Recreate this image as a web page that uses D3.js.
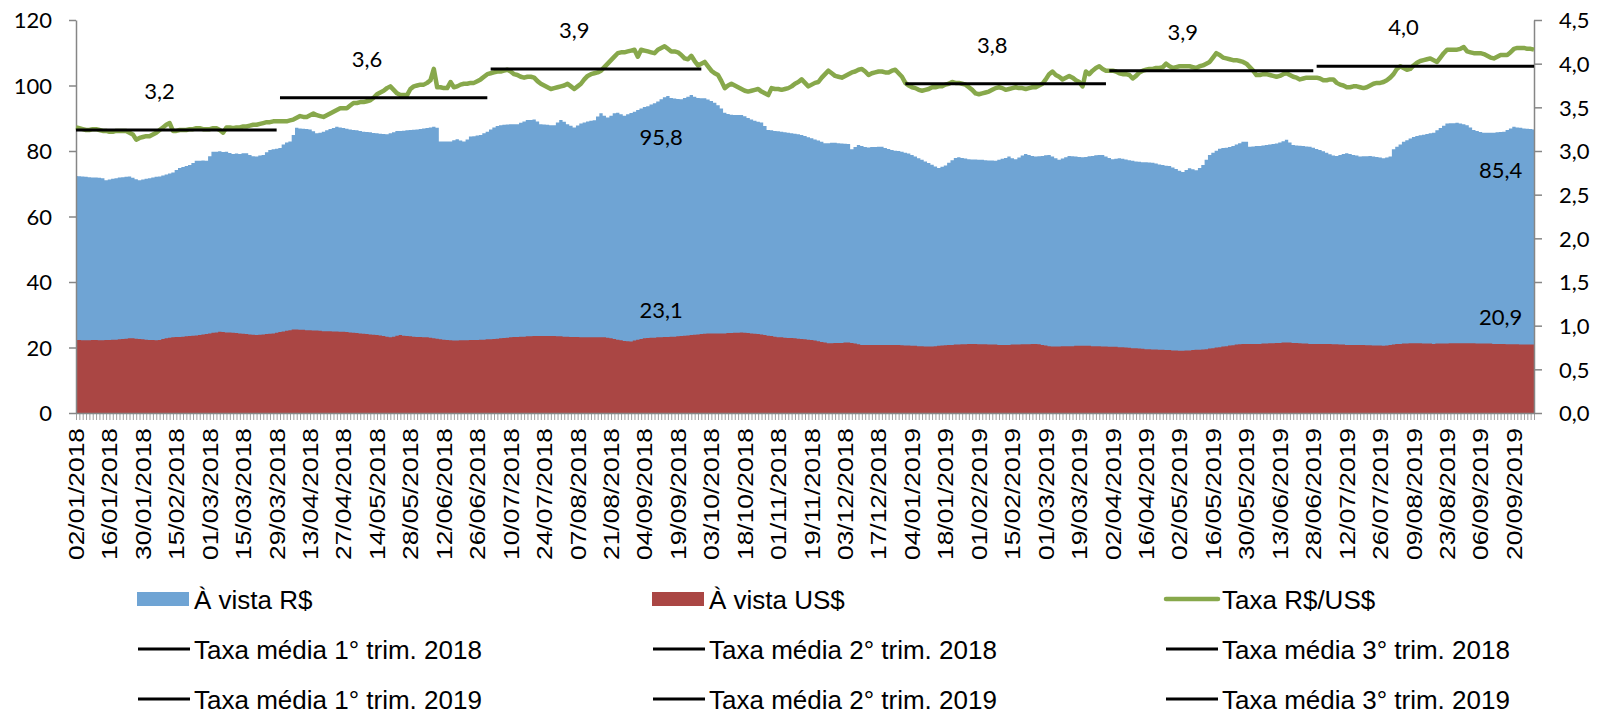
<!DOCTYPE html>
<html>
<head>
<meta charset="utf-8">
<script src="https://cdn.jsdelivr.net/npm/d3@7"></script>
<style>
  body { margin: 0; background: #fff; }
  .num { font-family: Lato, "Open Sans", sans-serif; font-size: 22px; fill: #000; }
  .date { font-family: "Liberation Sans", Arial, sans-serif; font-size: 22px; fill: #000; }
  .leg { font-family: "Liberation Sans", Arial, sans-serif; font-size: 26px; fill: #000; }
</style>
</head>
<body>
<svg id="chart" width="1597" height="715"></svg>
<script>
// one label every 10 trading days
var tickLabels = ["02/01/2018","16/01/2018","30/01/2018","15/02/2018","01/03/2018","15/03/2018","29/03/2018",
  "13/04/2018","27/04/2018","14/05/2018","28/05/2018","12/06/2018","26/06/2018","10/07/2018","24/07/2018",
  "07/08/2018","21/08/2018","04/09/2018","19/09/2018","03/10/2018","18/10/2018","01/11/2018","19/11/2018",
  "03/12/2018","17/12/2018","04/01/2019","18/01/2019","01/02/2019","15/02/2019","01/03/2019","19/03/2019",
  "02/04/2019","16/04/2019","02/05/2019","16/05/2019","30/05/2019","13/06/2019","28/06/2019","12/07/2019",
  "26/07/2019","09/08/2019","23/08/2019","06/09/2019","20/09/2019"];

// À vista R$ (left axis)
var aVistaReal = [
  72.4,72.3,72.2,72.1,72.0,71.9,71.9,71.8,71.7,71.1,
  71.3,71.5,71.7,71.9,72.0,72.1,72.2,71.8,71.4,71.1,
  71.3,71.5,71.7,71.9,72.1,72.2,72.5,72.8,73.1,73.4,
  74.2,74.8,75.1,75.4,75.7,76.3,77.0,77.0,77.1,77.0,
  78.4,79.8,79.8,79.9,79.7,79.8,79.4,79.1,79.2,79.1,
  79.3,79.3,78.8,78.4,78.3,78.6,78.8,79.6,80.3,80.5,
  80.7,80.9,82.0,82.6,82.9,84.9,87.1,86.9,86.8,86.7,
  86.6,86.0,85.4,85.6,85.9,86.3,86.7,87.0,87.4,87.2,
  87.0,86.8,86.6,86.4,86.3,86.1,85.9,85.8,85.7,85.5,
  85.4,85.3,85.2,85.1,85.4,85.7,86.1,86.1,86.2,86.3,
  86.4,86.5,86.6,86.7,86.9,87.0,87.2,87.4,87.1,82.9,
  82.9,82.9,82.9,83.3,83.6,83.2,82.9,83.5,84.4,84.5,
  84.7,84.9,85.4,85.9,86.6,87.2,87.6,87.9,88.0,88.1,
  88.2,88.2,88.2,88.6,89.0,89.5,89.5,89.6,89.0,88.2,
  88.1,88.0,87.9,87.9,88.7,89.5,88.9,88.2,87.7,87.2,
  87.8,88.4,88.7,89.0,89.2,89.4,90.5,91.5,90.8,90.2,
  90.8,91.5,91.7,91.2,90.8,91.2,91.6,92.0,92.5,93.0,
  93.4,93.7,94.2,94.6,95.1,95.8,96.4,96.8,96.2,96.0,
  95.9,95.8,96.2,96.6,97.1,96.6,96.2,96.1,96.1,95.7,
  95.3,94.7,94.0,93.0,91.7,91.3,91.1,91.0,91.0,91.0,
  90.6,90.1,89.6,89.2,88.9,88.7,87.6,86.4,86.3,86.1,
  86.0,85.9,85.7,85.6,85.4,85.3,85.1,84.9,84.6,84.2,
  83.9,83.5,83.2,82.8,82.4,82.4,82.5,82.5,82.4,82.3,
  82.2,82.1,80.5,81.2,81.8,81.5,81.2,81.1,81.2,81.2,
  81.3,81.3,80.9,80.6,80.3,80.1,80.0,79.8,79.5,79.2,
  78.8,78.3,77.8,77.3,76.8,76.3,75.8,75.3,74.8,75.2,
  75.6,76.4,77.2,77.9,78.1,77.9,77.7,77.5,77.4,77.4,
  77.3,77.3,77.2,77.1,77.1,77.0,77.3,77.6,77.9,78.3,
  77.8,77.5,78.0,78.6,79.1,78.8,78.5,78.3,78.4,78.5,
  78.7,78.8,78.3,77.8,77.3,77.7,78.1,78.5,78.4,78.3,
  78.2,78.1,78.2,78.4,78.5,78.7,78.8,78.8,78.3,77.9,
  77.5,77.6,77.8,77.6,77.4,77.2,77.0,76.8,76.7,76.6,
  76.6,76.5,76.4,76.2,75.9,75.7,75.5,75.4,75.0,74.5,
  74.0,73.6,74.2,74.7,74.4,74.1,74.8,75.7,77.3,78.8,
  79.5,80.1,80.7,80.9,81.0,81.2,81.5,82.0,82.4,82.8,
  82.8,81.3,81.4,81.5,81.5,81.7,81.8,82.0,82.1,82.3,
  82.6,83.0,83.4,82.6,81.8,81.7,81.6,81.5,81.4,81.3,
  81.0,80.6,80.3,79.9,79.5,79.0,78.6,78.5,78.8,79.1,
  79.3,79.1,78.8,78.6,78.3,78.4,78.4,78.5,78.3,78.2,
  78.0,77.8,78.0,78.3,80.5,81.3,82.0,82.8,83.3,83.8,
  84.3,84.6,84.8,85.0,85.2,85.4,85.6,86.3,87.0,87.7,
  88.4,88.5,88.5,88.6,88.4,88.2,87.9,87.2,86.4,86.1,
  85.8,85.6,85.6,85.6,85.6,85.7,85.8,85.9,86.4,86.9,
  87.4,87.2,87.1,86.9,86.8,86.7,86.6];

// À vista US$ (left axis)
var aVistaDolar = [
  22.3,22.3,22.2,22.2,22.2,22.3,22.3,22.2,22.2,22.3,
  22.3,22.4,22.4,22.5,22.6,22.7,22.8,22.8,22.7,22.6,
  22.5,22.4,22.3,22.3,22.2,22.3,22.6,22.8,23.0,23.1,
  23.2,23.2,23.3,23.4,23.5,23.6,23.7,23.8,24.0,24.1,
  24.3,24.5,24.6,24.8,24.7,24.6,24.6,24.5,24.4,24.3,
  24.2,24.1,24.0,23.9,23.8,23.9,24.0,24.1,24.2,24.3,
  24.5,24.7,24.9,25.1,25.3,25.5,25.5,25.4,25.4,25.3,
  25.3,25.2,25.2,25.1,25.0,25.0,25.0,24.9,24.9,24.8,
  24.8,24.7,24.6,24.5,24.4,24.3,24.2,24.1,24.0,23.9,
  23.8,23.7,23.5,23.3,23.1,23.3,23.6,23.8,23.6,23.5,
  23.4,23.3,23.2,23.2,23.1,23.1,23.0,22.8,22.7,22.5,
  22.4,22.3,22.2,22.1,22.1,22.2,22.2,22.2,22.3,22.3,
  22.3,22.4,22.4,22.5,22.5,22.6,22.7,22.8,22.9,23.0,
  23.1,23.2,23.2,23.3,23.3,23.4,23.4,23.5,23.5,23.5,
  23.5,23.5,23.5,23.5,23.4,23.4,23.3,23.3,23.2,23.2,
  23.2,23.1,23.1,23.1,23.1,23.1,23.1,23.1,23.1,23.0,
  22.8,22.6,22.4,22.2,22.0,21.9,21.8,22.1,22.4,22.6,
  22.8,22.9,23.0,23.0,23.1,23.1,23.2,23.2,23.3,23.3,
  23.4,23.5,23.6,23.7,23.8,23.9,24.0,24.1,24.2,24.3,
  24.3,24.3,24.3,24.3,24.3,24.4,24.4,24.5,24.5,24.6,
  24.5,24.4,24.3,24.2,24.1,24.0,23.8,23.6,23.5,23.3,
  23.1,23.1,23.0,22.9,22.9,22.8,22.7,22.6,22.5,22.4,
  22.3,22.1,21.9,21.7,21.5,21.3,21.3,21.4,21.4,21.4,
  21.5,21.5,21.4,21.2,21.0,20.8,20.8,20.8,20.8,20.8,
  20.8,20.8,20.8,20.8,20.8,20.8,20.8,20.7,20.6,20.6,
  20.5,20.5,20.4,20.4,20.3,20.3,20.3,20.4,20.5,20.6,
  20.7,20.8,20.8,20.9,20.9,21.0,21.0,21.1,21.1,21.1,
  21.0,21.0,21.0,20.9,20.9,20.9,20.8,20.8,20.8,20.8,
  20.9,20.9,20.9,21.0,21.0,21.0,21.1,21.1,21.0,20.8,
  20.6,20.4,20.3,20.3,20.3,20.4,20.4,20.4,20.4,20.5,
  20.5,20.5,20.5,20.5,20.4,20.4,20.4,20.3,20.3,20.2,
  20.2,20.2,20.1,20.1,20.0,19.9,19.8,19.8,19.7,19.6,
  19.5,19.5,19.4,19.4,19.3,19.3,19.2,19.2,19.1,19.1,
  19.0,19.0,19.1,19.1,19.2,19.3,19.3,19.4,19.5,19.7,
  19.8,20.0,20.1,20.3,20.4,20.6,20.7,20.9,21.0,21.1,
  21.1,21.1,21.1,21.1,21.1,21.2,21.2,21.3,21.3,21.4,
  21.4,21.5,21.5,21.5,21.4,21.4,21.3,21.2,21.2,21.1,
  21.1,21.1,21.1,21.1,21.1,21.1,21.0,21.0,20.9,20.9,
  20.8,20.8,20.8,20.8,20.8,20.8,20.7,20.7,20.6,20.6,
  20.6,20.5,20.6,20.8,20.9,21.1,21.1,21.2,21.2,21.3,
  21.3,21.3,21.3,21.2,21.2,21.2,21.1,21.2,21.2,21.2,
  21.2,21.3,21.3,21.3,21.3,21.3,21.3,21.3,21.3,21.2,
  21.2,21.2,21.2,21.2,21.1,21.1,21.1,21.1,21.0,21.0,
  21.0,21.0,20.9,20.9,20.9,20.9,20.9];

// Taxa R$/US$ (right axis)
var taxa = [
  3.27,3.26,3.25,3.24,3.24,3.25,3.25,3.24,3.23,3.23,
  3.22,3.22,3.23,3.23,3.23,3.23,3.21,3.19,3.13,3.15,
  3.16,3.17,3.17,3.19,3.21,3.24,3.27,3.30,3.32,3.23,
  3.23,3.24,3.24,3.24,3.25,3.25,3.26,3.26,3.25,3.25,
  3.25,3.26,3.26,3.24,3.21,3.27,3.27,3.26,3.27,3.27,
  3.28,3.28,3.29,3.30,3.30,3.31,3.32,3.33,3.33,3.34,
  3.34,3.34,3.34,3.34,3.35,3.36,3.38,3.40,3.39,3.39,
  3.41,3.43,3.41,3.40,3.39,3.41,3.43,3.45,3.47,3.49,
  3.49,3.49,3.52,3.55,3.55,3.56,3.56,3.57,3.58,3.61,
  3.65,3.67,3.69,3.72,3.74,3.70,3.66,3.64,3.64,3.64,
  3.71,3.74,3.75,3.76,3.76,3.78,3.81,3.94,3.73,3.73,
  3.72,3.72,3.79,3.73,3.74,3.76,3.77,3.77,3.78,3.78,
  3.80,3.82,3.85,3.88,3.89,3.90,3.91,3.91,3.92,3.93,
  3.91,3.88,3.87,3.85,3.84,3.85,3.85,3.84,3.80,3.77,
  3.75,3.73,3.71,3.72,3.73,3.74,3.75,3.77,3.74,3.71,
  3.74,3.77,3.82,3.86,3.88,3.89,3.90,3.92,3.96,4.00,
  4.04,4.08,4.12,4.13,4.13,4.14,4.15,4.16,4.08,4.16,
  4.15,4.14,4.13,4.12,4.16,4.18,4.20,4.17,4.14,4.14,
  4.13,4.10,4.06,4.05,4.09,4.03,3.98,4.00,4.02,3.97,
  3.92,3.89,3.87,3.80,3.72,3.75,3.77,3.75,3.73,3.71,
  3.69,3.68,3.69,3.70,3.71,3.68,3.66,3.64,3.72,3.71,
  3.71,3.70,3.71,3.72,3.74,3.77,3.79,3.82,3.78,3.74,
  3.76,3.78,3.79,3.84,3.88,3.92,3.89,3.86,3.85,3.84,
  3.86,3.88,3.90,3.91,3.93,3.94,3.91,3.87,3.89,3.90,
  3.91,3.91,3.90,3.90,3.92,3.93,3.89,3.85,3.78,3.75,
  3.73,3.72,3.70,3.69,3.70,3.71,3.73,3.73,3.74,3.74,
  3.76,3.77,3.79,3.78,3.78,3.77,3.76,3.73,3.70,3.66,
  3.65,3.66,3.67,3.68,3.70,3.72,3.73,3.72,3.70,3.71,
  3.72,3.73,3.72,3.72,3.71,3.72,3.73,3.73,3.75,3.77,
  3.82,3.88,3.91,3.87,3.85,3.82,3.84,3.86,3.84,3.81,
  3.79,3.74,3.91,3.88,3.92,3.95,3.97,3.94,3.92,3.92,
  3.92,3.91,3.89,3.88,3.88,3.87,3.83,3.86,3.90,3.92,
  3.93,3.94,3.94,3.95,3.95,3.96,4.00,3.97,3.95,3.96,
  3.97,3.97,3.97,3.97,3.96,3.95,3.97,3.98,4.00,4.02,
  4.07,4.12,4.10,4.07,4.06,4.05,4.04,4.04,4.03,4.02,
  4.00,3.96,3.92,3.87,3.87,3.88,3.88,3.87,3.86,3.85,
  3.86,3.88,3.89,3.87,3.85,3.84,3.82,3.83,3.84,3.84,
  3.84,3.84,3.83,3.81,3.81,3.82,3.82,3.78,3.76,3.75,
  3.73,3.73,3.74,3.74,3.73,3.72,3.73,3.75,3.77,3.78,
  3.78,3.79,3.81,3.84,3.88,3.94,3.97,3.95,3.93,3.94,
  3.98,4.01,4.03,4.04,4.05,4.06,4.04,4.02,4.07,4.12,
  4.16,4.16,4.16,4.16,4.17,4.19,4.14,4.13,4.12,4.12,
  4.12,4.11,4.09,4.07,4.06,4.08,4.10,4.10,4.10,4.13,
  4.17,4.18,4.18,4.18,4.17,4.17,4.16];

// quarterly averages (right axis), first and last trading-day index of each quarter
var quarterNames = ["Taxa média 1° trim. 2018","Taxa média 2° trim. 2018","Taxa média 3° trim. 2018",
  "Taxa média 1° trim. 2019","Taxa média 2° trim. 2019","Taxa média 3° trim. 2019"];
var quarterAvg = [3.24, 3.61, 3.94, 3.77, 3.92, 3.97];
var quarterFirst = [0, 61, 124, 248, 309, 371];
var quarterLast = [60, 123, 187, 308, 370, 436];

var leftTicks = [0, 20, 40, 60, 80, 100, 120];
var rightTicks = [0, 0.5, 1, 1.5, 2, 2.5, 3, 3.5, 4, 4.5];

var blue = "#6fa4d4", red = "#aa4644", green = "#87a84b", grey = "#868686";
var n = aVistaReal.length;

var br = d3.formatLocale({decimal: ",", thousands: ".", grouping: [3], currency: ["R$", ""]});
var fmt1 = br.format(".1f");

var svg = d3.select("#chart");

var x = d3.scaleLinear().domain([0, n - 1]).range([76, 1534]);
var yL = d3.scaleLinear().domain([0, 120]).range([413, 20]);
var yR = d3.scaleLinear().domain([0, 4.5]).range([413, 20]);

var areaReal = d3.area()
    .curve(d3.curveStep)
    .x(function(d, i) { return x(i); })
    .y0(yL(0))
    .y1(function(d) { return yL(d); });

svg.append("path")
    .datum(aVistaReal)
    .attr("d", areaReal)
    .attr("fill", blue);

svg.append("path")
    .datum(aVistaDolar)
    .attr("d", areaReal)
    .attr("fill", red);

// x axis: one tick per trading day
var gx = svg.append("g")
    .attr("transform", "translate(0," + yL(0) + ")")
    .call(d3.axisBottom(x).tickValues(d3.range(n)).tickSize(7).tickSizeOuter(0).tickFormat(""));
gx.selectAll("line").attr("stroke", grey).attr("stroke-width", 0.8);
gx.select(".domain").attr("stroke", grey).attr("stroke-width", 1.5);

svg.append("g").selectAll("text")
    .data(tickLabels)
  .enter().append("text")
    .attr("class", "date")
    .attr("transform", function(d, i) { return "translate(" + x(i * 10) + ",428) rotate(-90)"; })
    .attr("dy", "0.36em")
    .attr("text-anchor", "end")
    .attr("textLength", 132)
    .attr("lengthAdjust", "spacingAndGlyphs")
    .text(function(d) { return d; });

var gl = svg.append("g")
    .attr("transform", "translate(" + x(0) + ",0)")
    .call(d3.axisLeft(yL).tickValues(leftTicks).tickSize(7).tickSizeOuter(0).tickPadding(17).tickFormat(d3.format("d")));
var gr = svg.append("g")
    .attr("transform", "translate(" + x(n - 1) + ",0)")
    .call(d3.axisRight(yR).tickValues(rightTicks).tickSize(8).tickSizeOuter(0).tickPadding(17).tickFormat(fmt1));
[gl, gr].forEach(function(g) {
  g.select(".domain").attr("stroke", grey).attr("stroke-width", 1.5);
  g.selectAll("line").attr("stroke", grey).attr("stroke-width", 1.5);
  g.selectAll("text").attr("class", "num").attr("dy", "0.36em");
});

var line = d3.line()
    .x(function(d, i) { return x(i); })
    .y(function(d) { return yR(d); });

svg.append("path")
    .datum(taxa)
    .attr("d", line)
    .attr("fill", "none")
    .attr("stroke", green)
    .attr("stroke-width", 4.5)
    .attr("stroke-linejoin", "round");

svg.append("g").selectAll("line")
    .data(quarterAvg)
  .enter().append("line")
    .attr("x1", function(d, i) { return x(quarterFirst[i]); })
    .attr("x2", function(d, i) { return x(quarterLast[i]); })
    .attr("y1", function(d) { return yR(d); })
    .attr("y2", function(d) { return yR(d); })
    .attr("stroke", "#000")
    .attr("stroke-width", 3);

// value labels over the quarterly lines
var quarterLabelAt = [25, 87, 149, 274, 331, 397];
svg.append("g").selectAll("text")
    .data(quarterAvg)
  .enter().append("text")
    .attr("class", "num")
    .attr("text-anchor", "middle")
    .attr("x", function(d, i) { return x(quarterLabelAt[i]); })
    .attr("y", function(d) { return yR(d) - 39; })
    .attr("dy", "0.36em")
    .text(function(d) { return fmt1(d); });

// stock labels at end of sept 2018 and at the last day
[175, 426].forEach(function(i) {
  svg.append("text")
      .attr("class", "num")
      .attr("text-anchor", "middle")
      .attr("x", x(i))
      .attr("y", yL(aVistaReal[i]) + 38)
      .attr("dy", "0.36em")
      .text(fmt1(i == 175 ? 95.8 : 85.4));
  svg.append("text")
      .attr("class", "num")
      .attr("text-anchor", "middle")
      .attr("x", x(i))
      .attr("y", yL(aVistaDolar[i]) - 27)
      .attr("dy", "0.36em")
      .text(fmt1(i == 175 ? 23.1 : 20.9));
});

// legend, 3 columns x 3 rows
var legend = [{name: "À vista R$", kind: "rect", color: blue},
  {name: "À vista US$", kind: "rect", color: red},
  {name: "Taxa R$/US$", kind: "line", color: green, w: 4.5}];
quarterNames.forEach(function(q) { legend.push({name: q, kind: "line", color: "#000", w: 3}); });

var colX = [137, 652, 1165], rowY = [599, 649, 699];

var lg = svg.append("g").selectAll("g")
    .data(legend)
  .enter().append("g")
    .attr("transform", function(d, i) { return "translate(" + colX[i % 3] + "," + rowY[Math.floor(i / 3)] + ")"; });

lg.filter(function(d) { return d.kind == "rect"; })
  .append("rect")
    .attr("x", 0)
    .attr("y", -7)
    .attr("width", 52)
    .attr("height", 14)
    .attr("fill", function(d) { return d.color; });

lg.filter(function(d) { return d.kind == "line"; })
  .append("line")
    .attr("x1", 1)
    .attr("x2", 53)
    .attr("stroke", function(d) { return d.color; })
    .attr("stroke-width", function(d) { return d.w; })
    .attr("stroke-linecap", function(d) { return d.w > 4 ? "round" : "butt"; });

lg.append("text")
    .attr("class", "leg")
    .attr("x", 57)
    .attr("y", 9.5)
    .text(function(d) { return d.name; });
</script>
</body>
</html>
